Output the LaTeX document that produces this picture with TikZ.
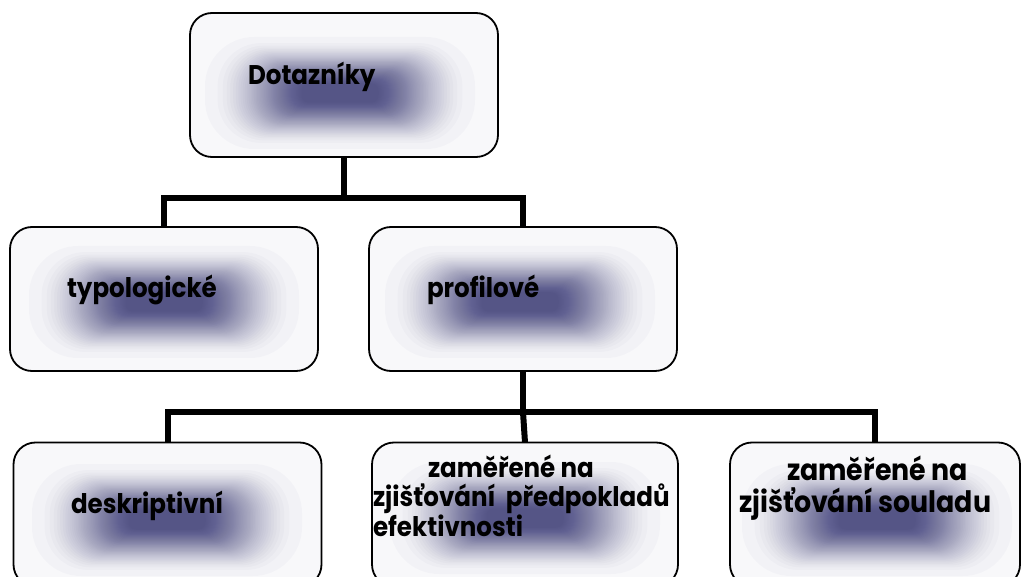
\documentclass[tikz,border=0pt]{standalone}
\usepackage{fontspec}
\setmainfont{Poppins}[FakeStretch=0.91]
\begin{document}
\begin{tikzpicture}[x=1pt,y=-1pt,
  box/.style={draw=black, line width=1.8pt, fill=boxfill, rounded corners=22pt,
    minimum width=308pt, minimum height=144pt, inner sep=0pt, outer sep=0pt},
  conn/.style={line width=6pt, line join=miter, draw=black},
  lbl/.style={anchor=base west, inner sep=0pt, outer sep=0pt,
    font=\fontsize{27}{32}\selectfont\bfseries},
  lblbig/.style={lbl, font=\fontsize{29.5}{34}\selectfont\bfseries}]
\definecolor{boxfill}{RGB}{248,248,250}
\definecolor{glow}{RGB}{62,62,124}
% soft bluish glow in the middle of a box: many faint nested rectangles,
% packed more densely towards the centre
\newcommand\glowat[2]{%
  \foreach \k in {0,...,59}{%
    \pgfmathsetmacro\s{1-sqrt(\k/59)}%
    \pgfmathsetmacro\hw{38+97*\s}%
    \pgfmathsetmacro\hh{9+47*\s}%
    \pgfmathsetmacro\rr{7+42*\s}%
    \fill[glow, opacity=0.026, rounded corners=\rr pt]
      ({#1-\hw},{#2-\hh}) rectangle ({#1+\hw},{#2+\hh});
  }}
\useasboundingbox (0,0) rectangle (1023,577);
\clip (0,0) rectangle (1023,577);

% boxes
\node[box] (top)  at (344,85)  {};
\node[box] (typ)  at (164,299) {};
\node[box] (prof) at (523,299) {};
\node[box] (desc) at (167.5,514.5) {};
\node[box, minimum width=306pt] (pred) at (525,514.5) {};
\node[box, minimum width=290pt] (soul) at (875,514.5) {};

\glowat{340}{93}
\glowat{164}{302}
\glowat{520}{302}
\glowat{167}{520}
\glowat{525}{518}
\glowat{877}{520}

% connectors
\coordinate (j1) at (344,198);
\coordinate (j2) at (523,412);
\draw[conn] (top.south) -- (j1);
\draw[conn] (typ.north) -- (typ.north |- j1) -- (prof.north |- j1) -- (prof.north);
\draw[conn] (prof.south) -- (j2);
\draw[conn] (desc.north) -- (desc.north |- j2) -- (soul.north |- j2) -- (soul.north);
\draw[conn] (j2) -- (pred.north);

% labels
\node[lbl] (tTop)  at (248,85)  {Dotazníky};
\node[lbl] (tTyp)  at (67,298)  {typologické};
\node[lbl] (tProf) at (427,298) {profilové};
\node[lbl] (tDesc) at (71,513)  {deskriptivní};
\node[lbl] (tPredA) at (428,477) {zaměřené na};
\node[lbl] (tPredB) at (373,506) {zjišťování\ \ předpokladů};
\node[lbl] (tPredC) at (373,536) {efektivnosti};
\node[lblbig] (tSoulA) at (787,480) {zaměřené na};
\node[lblbig] (tSoulB) at (739,512) {zjišťování souladu};
\end{tikzpicture}
\end{document}
